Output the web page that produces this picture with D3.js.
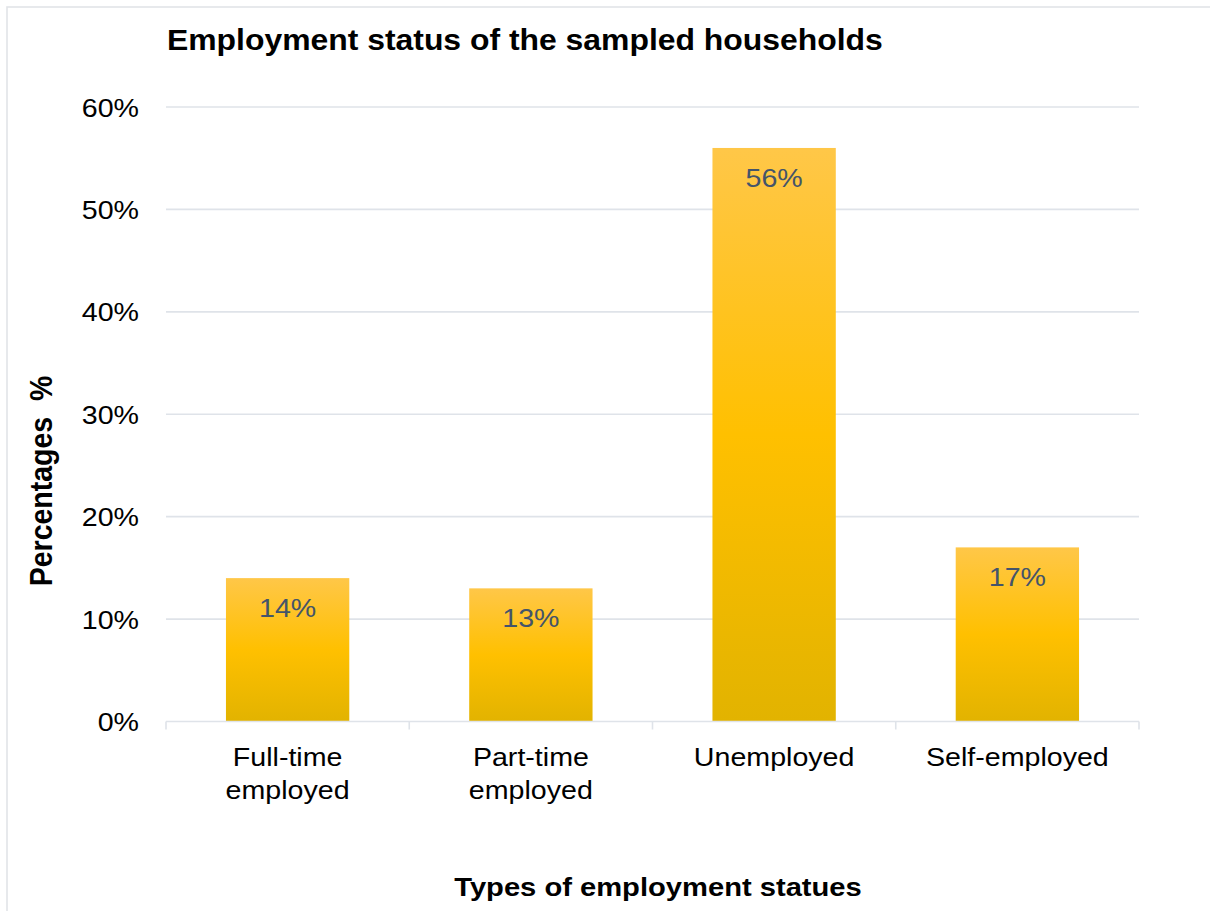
<!DOCTYPE html>
<html>
<head>
<meta charset="utf-8">
<script src="https://cdn.jsdelivr.net/npm/d3@7"></script>
<style>
  html, body { margin: 0; padding: 0; background: #ffffff; }
  svg { display: block; font-family: "Liberation Sans", Arial, sans-serif; }
  text { white-space: pre; }
</style>
</head>
<body>
<svg id="chart" width="1210" height="911"></svg>
<script>
// Employment status of the sampled households (share of households, %)
const categories = [["Full-time", "employed"], ["Part-time", "employed"], ["Unemployed"], ["Self-employed"]];
const values = [14, 13, 56, 17];
const yTicks = [0, 10, 20, 30, 40, 50, 60];

const titleText = "Employment status of the sampled households";
const xTitleText = "Types of employment statues";
const yTitleText = "Percentages  %";

const svg = d3.select("#chart");
const W = 1210, H = 911;
const plot = { left: 166, right: 1139, top: 107, bottom: 721.5 };
const stretch = 1.1; // glyphs are drawn slightly wide

// Outer chart frame
svg.append("rect")
  .attr("x", 7).attr("y", 7)
  .attr("width", W + 20).attr("height", H + 20)
  .attr("fill", "#ffffff")
  .attr("stroke", "#e1e4e8")
  .attr("stroke-width", 1.6);

// Bar fill gradient
const defs = svg.append("defs");
const grad = defs.append("linearGradient")
  .attr("id", "barFill")
  .attr("x1", 0).attr("y1", 0).attr("x2", 0).attr("y2", 1);
grad.append("stop").attr("offset", "0%").attr("stop-color", "#ffc748");
grad.append("stop").attr("offset", "50%").attr("stop-color", "#ffc000");
grad.append("stop").attr("offset", "100%").attr("stop-color", "#e2b300");

const x = d3.scaleBand()
  .domain(d3.range(categories.length))
  .range([plot.left, plot.right])
  .paddingInner(0.493)
  .paddingOuter(0.2465);

const y = d3.scaleLinear()
  .domain([0, 60])
  .range([plot.bottom, plot.top]);

function stretchedText(parent, px, py, str, opts) {
  const t = parent.append("text")
    .attr("transform", `translate(${px},${py}) scale(${stretch},1)` + (opts.rotate ? ` rotate(${opts.rotate})` : ""))
    .attr("text-anchor", opts.anchor || "start")
    .attr("font-size", opts.size)
    .attr("font-weight", opts.weight || "normal")
    .attr("fill", opts.fill || "#000000")
    .attr("xml:space", "preserve")
    .text(str);
  return t;
}

// Gridlines
const grid = svg.append("g");
grid.selectAll("line")
  .data(yTicks.filter(d => d > 0))
  .join("line")
  .attr("x1", plot.left).attr("x2", plot.right)
  .attr("y1", d => y(d)).attr("y2", d => y(d))
  .attr("stroke", "#dfe3e9")
  .attr("stroke-width", 1.6);

// Y tick labels
const yLabels = svg.append("g");
yTicks.forEach(d => {
  stretchedText(yLabels, 139, y(d) + 9.5, d + "%", { anchor: "end", size: 26 });
});

// Bars
svg.append("g").selectAll("rect")
  .data(values)
  .join("rect")
  .attr("x", (d, i) => x(i))
  .attr("y", d => y(d))
  .attr("width", x.bandwidth())
  .attr("height", d => y(0) - y(d))
  .attr("fill", "url(#barFill)");

// Value labels inside bar tops
const vLabels = svg.append("g");
values.forEach((d, i) => {
  stretchedText(vLabels, x(i) + x.bandwidth() / 2, y(d) + 39, d + "%",
    { anchor: "middle", size: 26, fill: "#44546a" });
});

// Category axis line and ticks at band boundaries
const axis = svg.append("g");
axis.append("line")
  .attr("x1", plot.left).attr("x2", plot.right)
  .attr("y1", y(0)).attr("y2", y(0))
  .attr("stroke", "#dfe3e9").attr("stroke-width", 1.6);
const boundaries = d3.range(categories.length + 1).map(i => plot.left + i * x.step());
axis.selectAll("line.tick")
  .data(boundaries)
  .join("line")
  .attr("class", "tick")
  .attr("x1", d => d).attr("x2", d => d)
  .attr("y1", y(0)).attr("y2", y(0) + 8)
  .attr("stroke", "#dfe3e9").attr("stroke-width", 1.6);

// Category labels
const cLabels = svg.append("g");
categories.forEach((lines, i) => {
  lines.forEach((ln, k) => {
    stretchedText(cLabels, x(i) + x.bandwidth() / 2, 766 + k * 33, ln,
      { anchor: "middle", size: 26 });
  });
});

// Titles
stretchedText(svg, 167, 50, titleText, { size: 29, weight: "bold" });
stretchedText(svg, 658, 896, xTitleText, { anchor: "middle", size: 26.5, weight: "bold" });
stretchedText(svg, 52, 481, yTitleText, { anchor: "middle", size: 28.5, weight: "bold", rotate: -90 });
</script>
</body>
</html>
